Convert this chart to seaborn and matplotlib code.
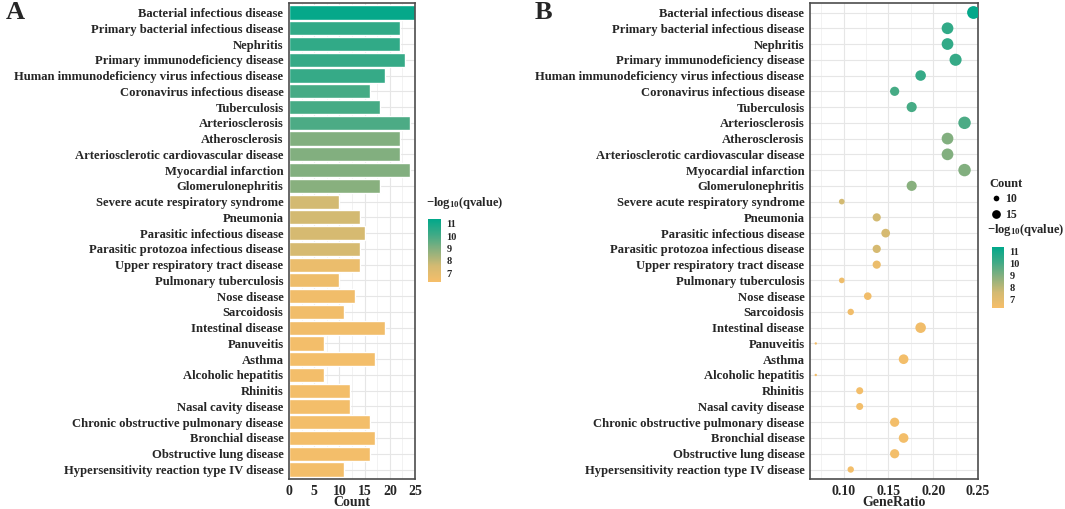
import numpy as np
import pandas as pd
import matplotlib
matplotlib.use("Agg")
import matplotlib.pyplot as plt
import seaborn as sns
from matplotlib.colors import LinearSegmentedColormap, Normalize
from matplotlib.ticker import MultipleLocator
from matplotlib.lines import Line2D

# data
terms = [
    "Bacterial infectious disease", "Primary bacterial infectious disease", "Nephritis",
    "Primary immunodeficiency disease", "Human immunodeficiency virus infectious disease",
    "Coronavirus infectious disease", "Tuberculosis", "Arteriosclerosis", "Atherosclerosis",
    "Arteriosclerotic cardiovascular disease", "Myocardial infarction", "Glomerulonephritis",
    "Severe acute respiratory syndrome", "Pneumonia", "Parasitic infectious disease",
    "Parasitic protozoa infectious disease", "Upper respiratory tract disease",
    "Pulmonary tuberculosis", "Nose disease", "Sarcoidosis", "Intestinal disease",
    "Panuveitis", "Asthma", "Alcoholic hepatitis", "Rhinitis", "Nasal cavity disease",
    "Chronic obstructive pulmonary disease", "Bronchial disease", "Obstructive lung disease",
    "Hypersensitivity reaction type IV disease",
]
counts = [25, 22, 22, 23, 19, 16, 18, 24, 22, 22, 24, 18, 10, 14, 15,
          14, 14, 10, 13, 11, 19, 7, 17, 7, 12, 12, 16, 17, 16, 11]
gene_ratio = [0.245, 0.216, 0.216, 0.225, 0.186, 0.157, 0.176, 0.235, 0.216, 0.216,
              0.235, 0.176, 0.098, 0.137, 0.147, 0.137, 0.137, 0.098, 0.127, 0.108,
              0.186, 0.069, 0.167, 0.069, 0.118, 0.118, 0.157, 0.167, 0.157, 0.108]
neglog_q = [11.3, 10.4, 10.4, 10.3, 10.3, 10.0, 10.0, 9.9, 9.0, 9.0, 9.0, 8.9,
            7.6, 7.6, 7.5, 7.5, 6.7, 6.6, 6.5, 6.5, 6.5, 6.4, 6.4, 6.4, 6.4, 6.4,
            6.4, 6.4, 6.4, 6.4]

df = pd.DataFrame({"term": terms, "count": counts, "ratio": gene_ratio, "q": neglog_q})

sns.set_style("white")
plt.rcParams["font.family"] = ["Liberation Serif", "DejaVu Serif"]
plt.rcParams["font.weight"] = "bold"
plt.rcParams["mathtext.fontset"] = "custom"
plt.rcParams["mathtext.rm"] = "Liberation Serif:bold"

cmap = LinearSegmentedColormap.from_list(
    "qv", ["#F6BE69", "#D4BA72", "#8BB07E", "#3FAA86", "#00A88A"])
norm = Normalize(vmin=6.3, vmax=11.4)

fig = plt.figure(figsize=(10.65, 5.09), dpi=100)
axA = fig.add_axes([0.2714, 0.059, 0.1183, 0.935])
axB = fig.add_axes([0.7606, 0.059, 0.1577, 0.935])

grid_kw = dict(color="#E6E6E6", lw=0.8)
n = len(terms)

# panel A: bars
pal = {t: cmap(norm(v)) for t, v in zip(terms, neglog_q)}
sns.barplot(data=df, x="count", y="term", hue="term", palette=pal, legend=False,
            width=0.9, ax=axA, zorder=2, saturation=1)
axA.set_xlim(0, 25)
axA.set_ylim(n - 0.4, -0.6)
axA.xaxis.set_major_locator(MultipleLocator(5))
axA.xaxis.set_minor_locator(MultipleLocator(2.5))
axA.set_xlabel("Count", fontsize=10, fontweight="bold", labelpad=-1)
axA.set_ylabel("")

# panel B: dots
smin, smax = 3, 85
sns.scatterplot(data=df, x="ratio", y="term", hue="q", palette=cmap, hue_norm=norm,
                size="count", sizes=(smin, smax), size_norm=(7, 25), legend=False,
                edgecolor="none", ax=axB, zorder=3)
axB.set_xlim(0.0626, 0.25)
axB.set_ylim(n - 0.4, -0.6)
axB.xaxis.set_major_locator(MultipleLocator(0.05))
axB.xaxis.set_minor_locator(MultipleLocator(0.025))
axB.xaxis.set_major_formatter(matplotlib.ticker.FormatStrFormatter("%.2f"))
axB.set_xlabel("GeneRatio", fontsize=10, fontweight="bold", labelpad=-1)
axB.set_ylabel("")

for ax in (axA, axB):
    ax.set_axisbelow(True)
    ax.grid(True, which="major", **grid_kw)
    ax.grid(True, which="minor", axis="x", color="#F0F0F0", lw=0.6)
    ax.tick_params(axis="y", labelsize=9.1, length=3, width=0.6, color="#333333", pad=1)
    ax.tick_params(axis="x", labelsize=10, length=3, width=0.6, color="#333333", pad=1)
    ax.tick_params(which="minor", length=0)
    for lab in ax.get_yticklabels() + ax.get_xticklabels():
        lab.set_fontweight("bold")
    for sp in ax.spines.values():
        sp.set_color("#4D4D4D")
        sp.set_linewidth(1.2)

fig.text(0.005, 0.975, "A", fontsize=19, fontweight="bold", va="center")
fig.text(0.502, 0.975, "B", fontsize=19, fontweight="bold", va="center")

# colorbars
sm = plt.cm.ScalarMappable(norm=norm, cmap=cmap)
qtitle = r"$\mathrm{-log_{10}(qvalue)}$"
for pos, tx, ty in [([0.4019, 0.446, 0.0122, 0.124], 0.400, 0.585),
                    ([0.9315, 0.395, 0.0113, 0.120], 0.927, 0.532)]:
    cax = fig.add_axes(pos)
    cb = fig.colorbar(sm, cax=cax, ticks=[7, 8, 9, 10, 11])
    cb.outline.set_visible(False)
    cax.tick_params(length=2, color="white", labelsize=7.5, pad=2)
    for lab in cax.get_yticklabels():
        lab.set_fontweight("bold")
    fig.text(tx, ty, qtitle, fontsize=9, va="bottom", ha="left")

# size legend for panel B
def dot_size(c):
    return smin + (smax - smin) * (c - 7) / (25 - 7)

handles = [Line2D([], [], marker="o", ls="", color="black", markeredgewidth=0,
                  markersize=np.sqrt(dot_size(c))) for c in (10, 15)]
leg = fig.legend(handles, ["10", "15"], title="Count", loc="upper left",
                 bbox_to_anchor=(0.925, 0.66), frameon=False, fontsize=8.5,
                 title_fontsize=9, handletextpad=0.3, labelspacing=0.3,
                 handlelength=1.0, borderaxespad=0)
leg.get_title().set_fontweight("bold")
leg._legend_box.align = "left"
for t in leg.get_texts():
    t.set_fontweight("bold")

fig.savefig("out.png", dpi=100)
